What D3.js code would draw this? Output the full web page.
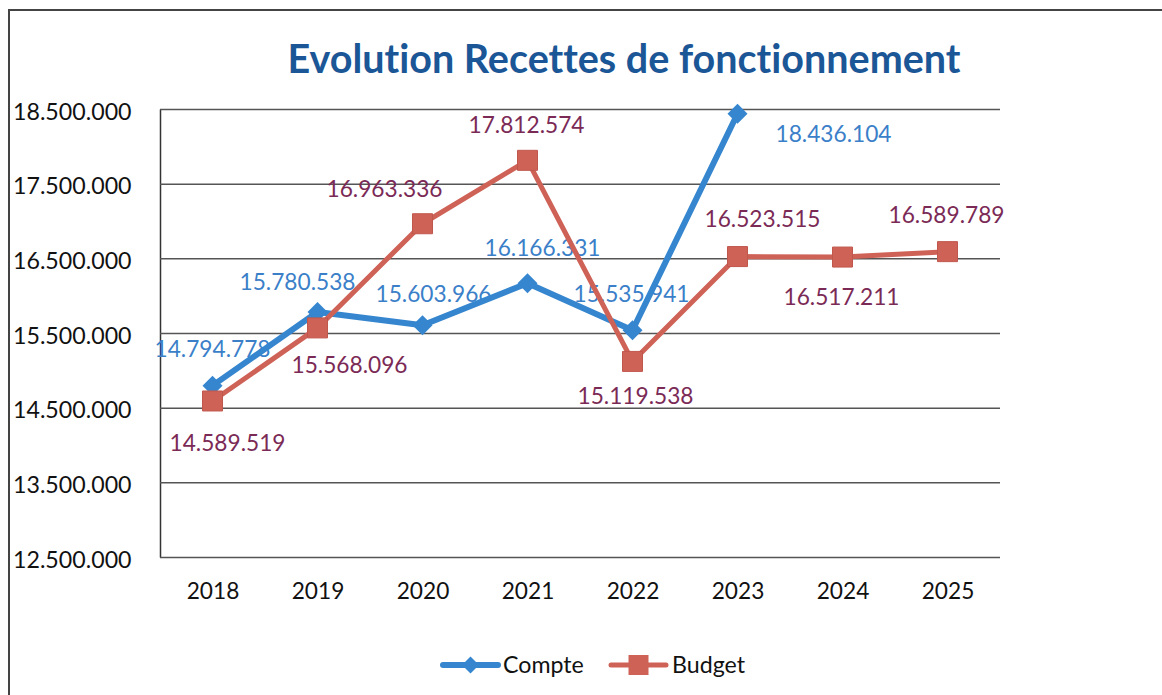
<!DOCTYPE html>
<html>
<head>
<meta charset="utf-8">
<script src="https://cdn.jsdelivr.net/npm/d3@7"></script>
<style>
  body { margin: 0; background: #fff; }
  svg { display: block; font-family: Lato, 'Open Sans', sans-serif; font-variant-ligatures: none; }
</style>
</head>
<body>
<script>
const years = ['2018', '2019', '2020', '2021', '2022', '2023', '2024', '2025'];
const compte = [14794778, 15780538, 15603966, 16166331, 15535941, 18436104];
const budget = [14589519, 15568096, 16963336, 17812574, 15119538, 16523515, 16517211, 16589789];
const yTicks = [12500000, 13500000, 14500000, 15500000, 16500000, 17500000, 18500000];
const seriesNames = ['Compte', 'Budget'];
const title = 'Evolution Recettes de fonctionnement';

// hand placed label offsets from each point (dx, dy to text baseline)
const compteLabelOffsets = [[0, -29], [-20, -22], [11, -23], [15, -27], [-1, -28], [96, 28]];
const budgetLabelOffsets = [[15, 50], [32, 45], [-38, -27], [-1, -27], [3, 43], [25, -30], [-1, 48], [-1, -29]];

const width = 1162;
const height = 695;
const margin = { left: 160, right: 162, top: 109, bottom: 138 };

const colors = {
  compteLine: '#3586cf',
  compteLabel: '#3b7fc9',
  budgetLine: '#cf6257',
  budgetLabel: '#7b2a56',
  title: '#1b5696',
  grid: '#555',
};

const fr = d3.formatLocale({ decimal: ',', thousands: '.', grouping: [3], currency: ['', ' €'] });
const fmt = fr.format(',d');

const svg = d3.select('body')
  .append('svg')
  .attr('width', width)
  .attr('height', height);

// frame of the scanned page
svg.append('path')
  .attr('d', `M9,${height} V10 H${width}`)
  .attr('fill', 'none')
  .attr('stroke', '#444')
  .attr('stroke-width', 2);

const x = d3.scalePoint()
  .domain(years)
  .range([margin.left, width - margin.right])
  .padding(0.5);

const y = d3.scaleLinear()
  .domain([d3.min(yTicks), d3.max(yTicks)])
  .range([height - margin.bottom, margin.top]);

svg.append('text')
  .attr('x', 624)
  .attr('y', 73)
  .attr('text-anchor', 'middle')
  .attr('font-size', 39.5)
  .attr('font-weight', 'bold')
  .attr('fill', colors.title)
  .text(title);

// y axis with gridlines
const yAxis = svg.append('g')
  .attr('transform', `translate(${margin.left}, 0)`)
  .call(d3.axisLeft(y)
    .tickValues(yTicks)
    .tickFormat(fmt)
    .tickSize(-(width - margin.left - margin.right))
    .tickSizeOuter(0));

yAxis.select('.domain')
  .attr('stroke', '#333')
  .attr('stroke-width', 1.5);
yAxis.selectAll('.tick line')
  .attr('stroke', colors.grid)
  .attr('stroke-width', 1.5);
yAxis.selectAll('.tick text')
  .attr('x', 13 - margin.left)
  .attr('y', 2)
  .attr('dy', '0.35em')
  .attr('text-anchor', 'start')
  .attr('font-size', 23.2)
  .attr('font-family', 'Lato, sans-serif')
  .attr('fill', '#111');

const xAxis = svg.append('g')
  .attr('transform', `translate(0, ${height - margin.bottom})`)
  .call(d3.axisBottom(x).tickSize(0));

xAxis.select('.domain').remove();
xAxis.selectAll('.tick text')
  .attr('y', 42)
  .attr('dy', null)
  .attr('font-size', 22.7)
  .attr('font-family', 'Lato, sans-serif')
  .attr('fill', '#111');

const series = [
  { name: seriesNames[0], values: compte, offsets: compteLabelOffsets, line: colors.compteLine, label: colors.compteLabel, width: 6, shape: 'diamond' },
  { name: seriesNames[1], values: budget, offsets: budgetLabelOffsets, line: colors.budgetLine, label: colors.budgetLabel, width: 5, shape: 'square' },
];

// labels first, the scan shows the lines crossing over them
series.forEach(s => {
  svg.append('g')
    .selectAll('text')
    .data(s.values)
    .join('text')
    .attr('x', (d, i) => x(years[i]) + s.offsets[i][0])
    .attr('y', (d, i) => y(d) + s.offsets[i][1])
    .attr('text-anchor', 'middle')
    .attr('font-size', 22.7)
    .attr('fill', s.label)
    .text(d => fmt(d));
});

const line = d3.line()
  .x((d, i) => x(years[i]))
  .y(d => y(d));

const marker = shape => shape === 'diamond'
  ? d3.symbol(d3.symbolSquare, 200)()
  : d3.symbol(d3.symbolSquare, 400)();

series.forEach(s => {
  svg.append('path')
    .datum(s.values)
    .attr('fill', 'none')
    .attr('stroke', s.line)
    .attr('stroke-width', s.width)
    .attr('stroke-linejoin', 'round')
    .attr('d', line);

  svg.append('g')
    .selectAll('path')
    .data(s.values)
    .join('path')
    .attr('d', marker(s.shape))
    .attr('transform', (d, i) => `translate(${x(years[i])}, ${y(d)})${s.shape === 'diamond' ? ' rotate(45)' : ''}`)
    .attr('fill', s.line)
    .attr('stroke', s.shape === 'square' ? '#c0574d' : 'none')
    .attr('stroke-width', 1);
});

// legend
const legendItems = [
  { x: 443, textX: 503 },
  { x: 611, textX: 672 },
];
const legend = svg.append('g');
series.forEach((s, i) => {
  const g = legend.append('g');
  const lx = legendItems[i].x;
  g.append('line')
    .attr('x1', lx).attr('x2', lx + 55)
    .attr('y1', 665).attr('y2', 665)
    .attr('stroke', s.line)
    .attr('stroke-width', s.width)
    .attr('stroke-linecap', 'round');
  g.append('path')
    .attr('d', marker(s.shape))
    .attr('transform', `translate(${lx + 27.5}, 665)${s.shape === 'diamond' ? ' rotate(45) scale(0.85)' : ''}`)
    .attr('fill', s.line);
  g.append('text')
    .attr('x', legendItems[i].textX)
    .attr('y', 673)
    .attr('font-size', 23.2)
    .attr('fill', '#111')
    .text(s.name);
});
</script>
</body>
</html>
